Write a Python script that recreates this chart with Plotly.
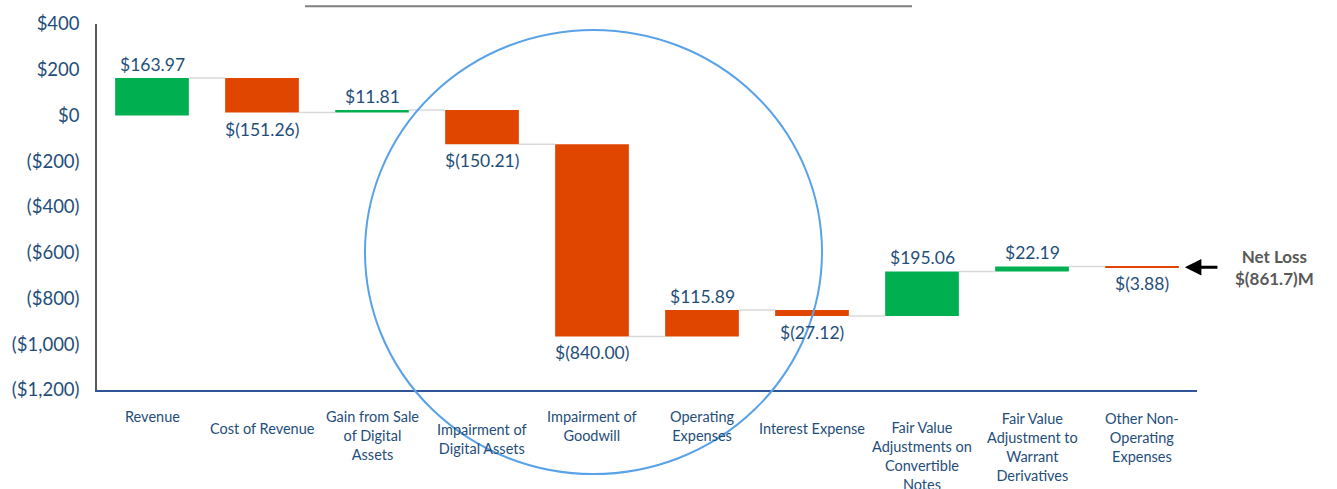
import plotly.graph_objects as go

categories = ["Revenue", "Cost of Revenue", "Gain from Sale<br>of Digital<br>Assets",
              "Impairment of<br>Digital Assets", "Impairment of<br>Goodwill",
              "Operating<br>Expenses", "Interest Expense",
              "Fair Value<br>Adjustments on<br>Convertible<br>Notes",
              "Fair Value<br>Adjustment to<br>Warrant<br>Derivatives",
              "Other Non-<br>Operating<br>Expenses"]
values = [163.97, -151.26, 11.81, -150.21, -840.00, 115.89, -27.12, 195.06, 22.19, -3.88]
bar_kind = ["gain", "loss", "gain", "loss", "loss", "loss", "loss", "gain", "gain", "loss"]
net_loss_text = "Net Loss<br>$(861.7)M"

GREEN = "#00B050"
RED = "#E04600"
TXT = "#1F4E79"
FONT = "Lato, Open Sans, sans-serif"
BAR_W = 0.67

# cumulative start/end of each step
starts, ends = [], []
run = 0.0
for v in values:
    starts.append(run)
    run += v
    ends.append(run)

xs = list(range(len(values)))
bases = [min(s, e) for s, e in zip(starts, ends)]
heights = [abs(v) for v in values]
colors = [GREEN if k == "gain" else RED for k in bar_kind]


def fmt(v):
    return f"${v:,.2f}" if v >= 0 else f"$({abs(v):,.2f})"


fig = go.Figure()
fig.add_trace(go.Bar(x=xs, y=heights, base=bases, width=BAR_W,
                     marker=dict(color=colors, line_width=0), hoverinfo="skip"))

# connector lines between steps
cx, cy = [], []
for i in range(len(values) - 1):
    cx += [i + BAR_W / 2, i + 1 - BAR_W / 2, None]
    cy += [ends[i], ends[i], None]
fig.add_trace(go.Scatter(x=cx, y=cy, mode="lines", line=dict(color="#D9D9D9", width=1.5),
                         hoverinfo="skip"))

# value labels: positive above, negative below
for i, v in enumerate(values):
    if v >= 0:
        fig.add_annotation(x=i, y=max(starts[i], ends[i]), text=fmt(v), showarrow=False,
                           yanchor="bottom", yshift=1,
                           font=dict(size=17.5, color=TXT, family=FONT))
    else:
        fig.add_annotation(x=i, y=min(starts[i], ends[i]), text=fmt(v), showarrow=False,
                           yanchor="top", yshift=-4,
                           font=dict(size=17.5, color=TXT, family=FONT))

# category labels (staggered like the original slide)
label_shift = [-16, -28, -16, -29, -16, -16, -28, -27, -18, -18]
for i, c in enumerate(categories):
    fig.add_annotation(x=i, y=0, yref="paper", yanchor="top", text=c, showarrow=False,
                       yshift=label_shift[i], font=dict(size=14.5, color=TXT, family=FONT),
                       align="center")

# net loss callout
fig.add_annotation(x=0.989, xref="paper", y=ends[-1], yref="y", ax=34, ay=0,
                   text="", showarrow=True, arrowhead=2, arrowsize=1.1,
                   arrowwidth=3, arrowcolor="#000000")
fig.add_annotation(x=1.07, xref="paper", y=ends[-1], yref="y", text=f"<b>{net_loss_text}</b>",
                   showarrow=False, xanchor="center", yanchor="middle",
                   font=dict(size=17, color="#595959", family=FONT))

# circle highlight and top rule
fig.add_shape(type="circle", xref="paper", yref="paper",
              x0=(365 - 97) / 1100, x1=(822 - 97) / 1100,
              y0=(390 - 475) / 370, y1=(390 - 26) / 370,
              line=dict(color="#5AA2E8", width=2))
fig.add_shape(type="line", xref="paper", yref="paper",
              x0=(305 - 97) / 1100, x1=(912 - 97) / 1100,
              y0=(390 - 2) / 370, y1=(390 - 2) / 370,
              line=dict(color="#7F7F7F", width=2))

fig.update_xaxes(range=[-0.5, len(values) - 0.5], showticklabels=False, showgrid=False,
                 zeroline=False, showline=True, linecolor="#2F5597", linewidth=2)
fig.update_yaxes(range=[-1200, 400], tickvals=list(range(-1200, 401, 200)),
                 ticktext=[f"${v:,}" if v >= 0 else f"(${abs(v):,})" for v in range(-1200, 401, 200)],
                 tickfont=dict(size=18.5, color=TXT, family=FONT), showgrid=False,
                 zeroline=False, showline=True, linecolor="#595959", linewidth=1.5,
                 ticks="", ticklabelstandoff=12)
fig.update_layout(width=1337, height=489, margin=dict(l=97, r=140, t=20, b=99),
                  plot_bgcolor="white", paper_bgcolor="white", showlegend=False,
                  bargap=0.33)
fig.write_html("out.html", config={"displayModeBar": False},
               post_script="document.body.style.margin = '0';")
